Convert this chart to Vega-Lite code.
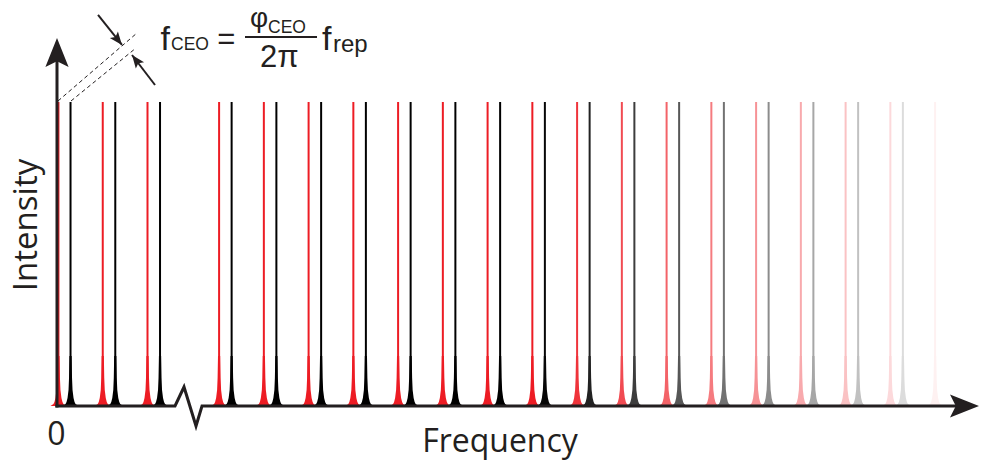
{
  "$schema": "https://vega.github.io/schema/vega-lite/v6.json",
  "width": 982,
  "height": 462,
  "autosize": {"type": "fit", "contains": "padding"},
  "padding": 0,
  "background": "white",
  "config": {"view": {"stroke": null}},
  "datasets": {
    "teeth": [
      {"f": 0.01, "I": 1, "comb": "red"}, {"f": 1, "I": 1, "comb": "red"}, {"f": 2, "I": 1, "comb": "red"},
      {"f": 3.6, "I": 1, "comb": "red"}, {"f": 4.6, "I": 1, "comb": "red"}, {"f": 5.6, "I": 1, "comb": "red"},
      {"f": 6.6, "I": 1, "comb": "red"}, {"f": 7.6, "I": 1, "comb": "red"}, {"f": 8.6, "I": 1, "comb": "red"},
      {"f": 9.6, "I": 1, "comb": "red"}, {"f": 10.6, "I": 1, "comb": "red"}, {"f": 11.6, "I": 1, "comb": "red"},
      {"f": 12.6, "I": 1, "comb": "red"}, {"f": 13.6, "I": 1, "comb": "red"}, {"f": 14.6, "I": 1, "comb": "red"},
      {"f": 15.6, "I": 1, "comb": "red"}, {"f": 16.6, "I": 1, "comb": "red"}, {"f": 17.6, "I": 1, "comb": "red"},
      {"f": 18.6, "I": 1, "comb": "red"}, {"f": 19.6, "I": 1, "comb": "red"},
      {"f": 0.28, "I": 1, "comb": "black"}, {"f": 1.28, "I": 1, "comb": "black"}, {"f": 2.28, "I": 1, "comb": "black"},
      {"f": 3.88, "I": 1, "comb": "black"}, {"f": 4.88, "I": 1, "comb": "black"}, {"f": 5.88, "I": 1, "comb": "black"},
      {"f": 6.88, "I": 1, "comb": "black"}, {"f": 7.88, "I": 1, "comb": "black"}, {"f": 8.88, "I": 1, "comb": "black"},
      {"f": 9.88, "I": 1, "comb": "black"}, {"f": 10.88, "I": 1, "comb": "black"}, {"f": 11.88, "I": 1, "comb": "black"},
      {"f": 12.88, "I": 1, "comb": "black"}, {"f": 13.88, "I": 1, "comb": "black"}, {"f": 14.88, "I": 1, "comb": "black"},
      {"f": 15.88, "I": 1, "comb": "black"}, {"f": 16.88, "I": 1, "comb": "black"}, {"f": 17.88, "I": 1, "comb": "black"},
      {"f": 18.88, "I": 1, "comb": "black"}
    ],
    "baseline": [
      {"f": -0.06, "I": 0}, {"f": 2.615, "I": 0}, {"f": 2.816, "I": 0.0625},
      {"f": 3.084, "I": -0.0658}, {"f": 3.218, "I": 0}, {"f": 20.07, "I": 0}
    ],
    "yaxis": [{"f": -0.0223, "I": -0.005, "f2": -0.0223, "I2": 1.14}],
    "dashes": [
      {"id": 1, "f": 0.0, "I": 1.0033}, {"id": 1, "f": 1.765, "I": 1.227},
      {"id": 2, "f": 0.2905, "I": 1.0033}, {"id": 2, "f": 1.743, "I": 1.1776}
    ],
    "segments": [
      {"f": 0.894, "I": 1.2862, "f2": 1.43, "I2": 1.1875},
      {"f": 2.168, "I": 1.0559, "f2": 1.654, "I2": 1.1546},
      {"f": 4.179, "I": 1.2138, "f2": 5.788, "I2": 1.2138}
    ],
    "fText": [
      {"label": "f", "f": 2.29, "I": 1.1711},
      {"label": "f", "f": 5.899, "I": 1.1711}
    ],
    "midText": [
      {"label": "=", "f": 3.56, "I": 1.1743},
      {"label": "2π", "f": 4.514, "I": 1.1151}
    ],
    "subText": [
      {"label": "CEO", "f": 2.525, "I": 1.1711},
      {"label": "CEO", "f": 4.693, "I": 1.227}
    ]
  },
  "encoding": {
    "x": {"field": "f", "type": "quantitative", "scale": {"domain": [-1.2961, 20.648], "nice": false, "zero": false}, "axis": null},
    "y": {"field": "I", "type": "quantitative", "scale": {"domain": [-0.1842, 1.3355], "nice": false, "zero": false}, "axis": null}
  },
  "layer": [
    {
      "data": {"name": "teeth"},
      "transform": [{"filter": "datum.comb === 'red'"}],
      "encoding": {
        "color": {"field": "f", "type": "quantitative", "scale": {"domain": [10.6, 20.2], "range": ["#ed1c24", "#ffffff"], "clamp": true, "interpolate": "rgb"}, "legend": null}
      },
      "layer": [
        {"mark": {"type": "point", "shape": "M-8,0 L-5,-2 L-4,-4 L-3,-8 L-2,-16 L-1.5,-28 L-1.1,-50 L1.1,-50 L1.5,-28 L2,-16 L3,-8 L4,-4 L5,-2 L8,0 Z", "size": 4, "filled": true, "opacity": 1, "strokeWidth": 0}, "encoding": {"y": {"datum": 0}}},
        {"mark": {"type": "rule", "strokeWidth": 2}, "encoding": {"y2": {"datum": 0}}}
      ]
    },
    {
      "data": {"name": "teeth"},
      "transform": [{"filter": "datum.comb === 'black'"}],
      "encoding": {
        "color": {"field": "f", "type": "quantitative", "scale": {"domain": [10.6, 20.2], "range": ["#000000", "#ffffff"], "clamp": true, "interpolate": "rgb"}, "legend": null}
      },
      "layer": [
        {"mark": {"type": "point", "shape": "M-8,0 L-5,-2 L-4,-4 L-3,-8 L-2,-16 L-1.5,-28 L-1.1,-50 L1.1,-50 L1.5,-28 L2,-16 L3,-8 L4,-4 L5,-2 L8,0 Z", "size": 4, "filled": true, "opacity": 1, "strokeWidth": 0}, "encoding": {"y": {"datum": 0}}},
        {"mark": {"type": "rule", "strokeWidth": 2}, "encoding": {"y2": {"datum": 0}}}
      ]
    },
    {
      "data": {"name": "baseline"},
      "mark": {"type": "line", "color": "#231f20", "strokeWidth": 3, "strokeJoin": "miter"},
      "encoding": {}
    },
    {
      "data": {"name": "yaxis"},
      "mark": {"type": "rule", "color": "#231f20", "strokeWidth": 3},
      "encoding": {"x2": {"field": "f2"}, "y2": {"field": "I2"}}
    },
    {
      "data": {"values": [{"f": -0.0223, "I": 1.2105}]},
      "mark": {"type": "point", "shape": "M0,0 L0.8,2 L0,1.6 L-0.8,2 Z", "size": 841, "filled": true, "opacity": 1, "color": "#231f20", "strokeWidth": 0, "angle": 0},
      "encoding": {}
    },
    {
      "data": {"values": [{"f": 20.581, "I": 0}]},
      "mark": {"type": "point", "shape": "M0,0 L0.8,2 L0,1.6 L-0.8,2 Z", "size": 841, "filled": true, "opacity": 1, "color": "#231f20", "strokeWidth": 0, "angle": 90},
      "encoding": {}
    },
    {
      "data": {"name": "dashes"},
      "mark": {"type": "line", "color": "#231f20", "strokeWidth": 1, "strokeDash": [4, 3]},
      "encoding": {"detail": {"field": "id"}}
    },
    {
      "data": {"name": "segments"},
      "mark": {"type": "rule", "color": "#231f20", "strokeWidth": 2},
      "encoding": {"x2": {"field": "f2"}, "y2": {"field": "I2"}}
    },
    {
      "data": {"values": [{"f": 1.43, "I": 1.1875}]},
      "mark": {"type": "point", "shape": "M0,0 L0.8,2 L0,1.6 L-0.8,2 Z", "size": 169, "filled": true, "opacity": 1, "color": "#231f20", "strokeWidth": 0, "angle": 141.3},
      "encoding": {}
    },
    {
      "data": {"values": [{"f": 1.654, "I": 1.1546}]},
      "mark": {"type": "point", "shape": "M0,0 L0.8,2 L0,1.6 L-0.8,2 Z", "size": 169, "filled": true, "opacity": 1, "color": "#231f20", "strokeWidth": 0, "angle": 322.5},
      "encoding": {}
    },
    {
      "data": {"name": "fText"},
      "mark": {"type": "text", "font": "Liberation Sans", "fontSize": 34, "align": "left", "baseline": "alphabetic", "color": "#231f20"},
      "encoding": {"text": {"field": "label"}}
    },
    {
      "data": {"name": "midText"},
      "mark": {"type": "text", "font": "Liberation Sans", "fontSize": 31, "align": "left", "baseline": "alphabetic", "color": "#231f20"},
      "encoding": {"text": {"field": "label"}}
    },
    {
      "data": {"name": "subText"},
      "mark": {"type": "text", "font": "Liberation Sans", "fontSize": 17.5, "align": "left", "baseline": "alphabetic", "color": "#231f20"},
      "encoding": {"text": {"field": "label"}}
    },
    {
      "data": {"values": [{"label": "φ", "f": 4.291, "I": 1.2467}]},
      "mark": {"type": "text", "font": "Liberation Sans", "fontSize": 28, "align": "left", "baseline": "alphabetic", "color": "#231f20"},
      "encoding": {"text": {"field": "label"}}
    },
    {
      "data": {"values": [{"label": "rep", "f": 6.145, "I": 1.1645}]},
      "mark": {"type": "text", "font": "Liberation Sans", "fontSize": 24, "align": "left", "baseline": "alphabetic", "color": "#231f20"},
      "encoding": {"text": {"field": "label"}}
    },
    {
      "data": {"values": [{"label": "Frequency", "f": 9.877, "I": -0.1513}, {"label": "0", "f": -0.034, "I": -0.1283}]},
      "mark": {"type": "text", "font": "Open Sans", "fontSize": 32, "align": "center", "baseline": "alphabetic", "color": "#231f20"},
      "encoding": {"text": {"field": "label"}}
    },
    {
      "data": {"values": [{"label": "Intensity", "f": -0.469, "I": 0.5954}]},
      "mark": {"type": "text", "font": "Open Sans", "fontSize": 33, "align": "center", "baseline": "alphabetic", "angle": 270, "color": "#231f20"},
      "encoding": {"text": {"field": "label"}}
    }
  ],
  "resolve": {"scale": {"color": "independent"}}
}
